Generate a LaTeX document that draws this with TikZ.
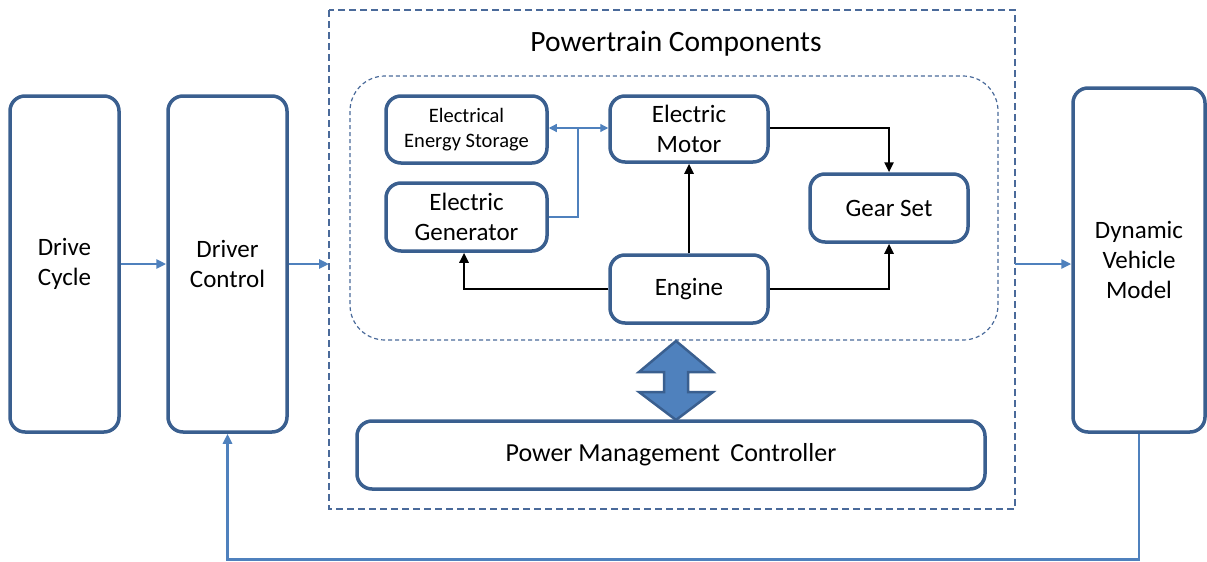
\documentclass[tikz,border=0pt]{standalone}
\usepackage{fontspec}
\setmainfont{Carlito}
\usetikzlibrary{arrows.meta}
\definecolor{bdr}{HTML}{3A5F8F}
\definecolor{lblue}{HTML}{4F81BD}
\definecolor{dashcol}{HTML}{4A6A9A}
\tikzset{
  blk/.style={draw=bdr,line width=3.5pt,rounded corners=15pt,fill=white,align=center,inner sep=0pt},
  big/.style={font=\fontsize{25}{30}\selectfont},
  sml/.style={font=\fontsize{20.5}{25}\selectfont},
  bluearr/.style={draw=lblue,line width=2.8pt,-{Triangle[length=10pt,width=9pt]}},
  thinb/.style={draw=lblue,line width=1.2pt},
  blackarr/.style={draw=black,line width=2.4pt,-{Triangle[length=10pt,width=9pt]}},
}
\begin{document}
\begin{tikzpicture}[x=1pt,y=-1pt]
\useasboundingbox (0,0) rectangle (1207,562);
% outer dashed box
\draw[draw=dashcol,line width=1.2pt,dash pattern=on 7pt off 4pt] (329,10) rectangle (1015,509);
\node[font=\fontsize{29.5}{34}\selectfont] (title) at (676,44) {Powertrain Components};
\draw[draw=dashcol,line width=1.2pt,dash pattern=on 4pt off 3pt,rounded corners=35pt] (350,76) rectangle (998,340);
% left and right blocks
\node[blk,big,minimum width=109pt,minimum height=336pt] (dc) at (64.5,264) {Drive\\Cycle};
\node[blk,big,minimum width=119pt,minimum height=336pt] (drc) at (227.5,264) {Driver\\Control};
\node[blk,big,minimum width=132pt,minimum height=344pt] (dvm) at (1139,260) {Dynamic\\Vehicle\\Model};
\coordinate (ptl) at (329,264);
\coordinate (ptr) at (1015,264);
% inner blocks
\node[blk,sml,minimum width=161pt,minimum height=67pt] (ees) at (466.5,129.5) {Electrical\\Energy Storage};
\node[blk,big,minimum width=158pt,minimum height=66pt] (em) at (689,129) {Electric\\Motor};
\node[blk,big,minimum width=161pt,minimum height=68pt] (eg) at (466.5,217) {Electric\\Generator};
\node[blk,big,minimum width=158pt,minimum height=68pt] (gs) at (889,208) {Gear Set};
\node[blk,big,minimum width=158pt,minimum height=68pt] (en) at (689,289) {Engine};
\node[blk,font=\fontsize{26}{30}\selectfont,minimum width=628pt,minimum height=68pt] (pmc) at (671,455) {Power Management\hspace{0.4em}Controller};
% blue connectors
\draw[bluearr] (dc.east) -- (drc.west);
\draw[bluearr] (drc.east) -- (ptl);
\draw[bluearr] (ptr) -- (dvm.west |- ptr);
\draw[bluearr] (dvm.south) -- ++(0,126) -| (drc.south);
% thin blue electrical
\coordinate (jn) at (578,128);
\draw[thinb,{Triangle[length=8pt,width=8pt]}-{Triangle[length=8pt,width=8pt]}] (ees.east |- jn) -- (em.west |- jn);
\draw[thinb] (jn) |- (eg.east);
% black mechanical
\draw[blackarr] (em.east |- 0,128) -| (gs.north);
\draw[blackarr] (en.north) -- (em.south);
\draw[blackarr] (en.west) -| (eg.south -| 464,0);
\draw[blackarr] (en.east) -| (gs.south);
% double arrow
\draw[draw=bdr,fill=lblue,line width=2.5pt,line join=miter]
  (676,341) -- (713,372) -- (688,372) -- (688,392) -- (713,392) -- (676,420)
  -- (639,392) -- (664,392) -- (664,372) -- (639,372) -- cycle;
\end{tikzpicture}
\end{document}
